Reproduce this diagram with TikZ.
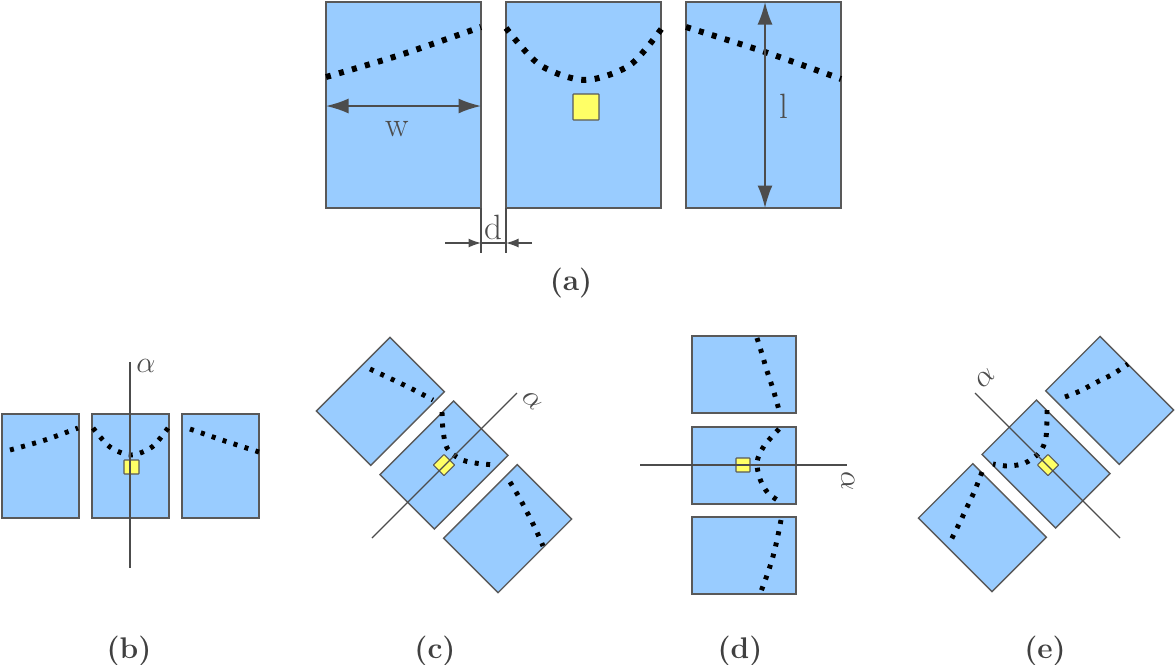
\documentclass[tikz,border=0pt]{standalone}
\usepackage{tikz}
\usetikzlibrary{arrows.meta}
\definecolor{plateblue}{HTML}{99CCFF}
\definecolor{pinyellow}{HTML}{FFFF66}
\begin{document}
\begin{tikzpicture}[x=0.02cm, y=-0.02cm,
    plate/.style={draw=black!65, fill=plateblue, line width=0.8pt},
    pin/.style={draw=black!65, fill=pinyellow, line width=0.6pt, rounded corners=0.3pt},
    crack/.style={line width=3.4pt, dash pattern=on 1mm off 1.7mm, line cap=butt},
    scrack/.style={line width=2.8pt, dash pattern=on 0.8mm off 1.5mm},
    axis/.style={draw=black!70, line width=0.7pt},
    dim/.style={draw=black!70, line width=0.8pt},
    big/.style={-{Latex[length=4.5mm,width=3mm]}},
    small/.style={-{Latex[length=2.5mm,width=1.8mm]}},
    lbl/.style={font=\fontsize{20}{24}\selectfont, text=black!70},
    caption/.style={font=\bfseries\fontsize{17}{20}\selectfont, text=black!75}]
  \useasboundingbox (0,0) rectangle (1175,664);

  % (a)
  \foreach \xa in {326,506,686}
    \draw[plate] (\xa,2) rectangle ++(155,206);
  \draw[crack] plot[smooth] coordinates {(326,77) (400,55) (481,27)};
  \draw[crack] plot[smooth] coordinates {(506,28) (540,65) (585,80) (630,65) (662,28)};
  \draw[crack] plot[smooth] coordinates {(686,27) (765,52) (841,79)};
  \draw[pin] (573,94) rectangle (599,120);
  \coordinate (wl) at (326,106); \coordinate (wr) at (481,106);
  \coordinate (wm) at (400,106);
  \draw[dim, big, line width=1pt] (wm) -- (wl);
  \draw[dim, big, line width=1pt] (wm) -- (wr);
  \node[lbl] (w) at (397,129) {w};
  \coordinate (lt) at (765,2); \coordinate (lb) at (765,208);
  \coordinate (lm) at (765,105);
  \draw[dim, big, line width=1pt] (lm) -- (lt);
  \draw[dim, big, line width=1pt] (lm) -- (lb);
  \node[lbl] (l) at (784,106) {l};
  \coordinate (d1) at (481,253); \coordinate (d2) at (506,253);
  \draw[dim] (481,208) -- (d1); \draw[dim] (506,208) -- (d2);
  \coordinate (dl) at (445,243); \coordinate (dr) at (532,243);
  \draw[dim, small] (dl) -- (481,243);
  \draw[dim, small] (dr) -- (506,243);
  \draw[dim] (481,243) -- (506,243);
  \node[lbl] (d) at (493,227) {d};
  \node[caption] (capa) at (571,283) {(a)};

  % (b)
  \foreach \xb in {2,92,182}
    \draw[plate] (\xb,414) rectangle ++(77,104);
  \draw[scrack] plot[smooth] coordinates {(10,450) (45,440) (78,428)};
  \draw[scrack] plot[smooth] coordinates {(93,428) (110,447) (131,455) (152,447) (168,428)};
  \draw[scrack] plot[smooth] coordinates {(190,429) (225,441) (259,452)};
  \draw[pin] (124,460) rectangle (139,474);
  \coordinate (bt) at (130,362); \coordinate (bb) at (130,568);
  \draw[axis] (bt) -- (bb);
  \node[lbl, font=\fontsize{17}{20}\selectfont] (ab) at (146,366) {$\alpha$};
  \node[caption] (capb) at (129,651) {(b)};

  % (c)
  \begin{scope}[shift={(444,465)}, rotate=-45]
    \foreach \u in {-90,0,90}
      \draw[plate] (\u-38.5,-52) rectangle ++(77,104);
    \draw[pin] (-7.5,-7.5) rectangle (7.5,7.5);
  \end{scope}
  \draw[scrack] plot[smooth] coordinates {(370,369) (385,376) (402,384) (418,392) (433,400)};
  \draw[scrack] plot[smooth] coordinates {(442,412) (443,430) (447,448) (460,459) (475,463) (495,465)};
  \draw[scrack] plot[smooth] coordinates {(510,482) (519,497) (528,514) (536,530) (543,546)};
  \coordinate (ct) at (517,393); \coordinate (cb) at (372,538);
  \draw[axis] (cb) -- (ct);
  \node[lbl, font=\fontsize{17}{20}\selectfont, rotate=-45] (ac) at (532,401) {$\alpha$};
  \node[caption] (capc) at (435,651) {(c)};

  % (d)
  \foreach \yd in {336,427,517}
    \draw[plate] (692,\yd) rectangle ++(104,77);
  \draw[scrack] plot[smooth] coordinates {(757,338) (762,354) (767,371) (773,389) (779,410)};
  \draw[scrack] plot[smooth] coordinates {(779,429) (764,446) (757,462) (760,479) (768,493) (782,503)};
  \draw[scrack] plot[smooth] coordinates {(781,520) (777,540) (772,560) (766,578) (760,594)};
  \draw[pin] (736,458) rectangle (750,472);
  \coordinate (dlft) at (640,465); \coordinate (drgt) at (847,465);
  \draw[axis] (dlft) -- (drgt);
  \node[lbl, font=\fontsize{17}{20}\selectfont, rotate=-90] (ad) at (848,481) {$\alpha$};
  \node[caption] (capd) at (740,651) {(d)};

  % (e)
  \begin{scope}[shift={(1046,464)}, rotate=45]
    \foreach \u in {-90,0,90}
      \draw[plate] (\u-38.5,-52) rectangle ++(77,104);
  \end{scope}
  \draw[scrack] plot[smooth] coordinates {(1065,397) (1080,391) (1095,383) (1113,374) (1128,364)};
  \draw[scrack] plot[smooth] coordinates {(1047,410) (1046,437) (1040,452) (1025,463) (1008,466) (993,464)};
  \draw[scrack] plot[smooth] coordinates {(982,472) (975,490) (968,505) (960,522) (951,540)};
  \begin{scope}[shift={(1048,465)}, rotate=45]
    \draw[pin] (-7.5,-7.5) rectangle (7.5,7.5);
  \end{scope}
  \coordinate (et) at (975,393); \coordinate (eb) at (1120,538);
  \draw[axis] (et) -- (eb);
  \node[lbl, font=\fontsize{17}{20}\selectfont, rotate=45] (ae) at (985,378) {$\alpha$};
  \node[caption] (cape) at (1045,651) {(e)};
\end{tikzpicture}
\end{document}
